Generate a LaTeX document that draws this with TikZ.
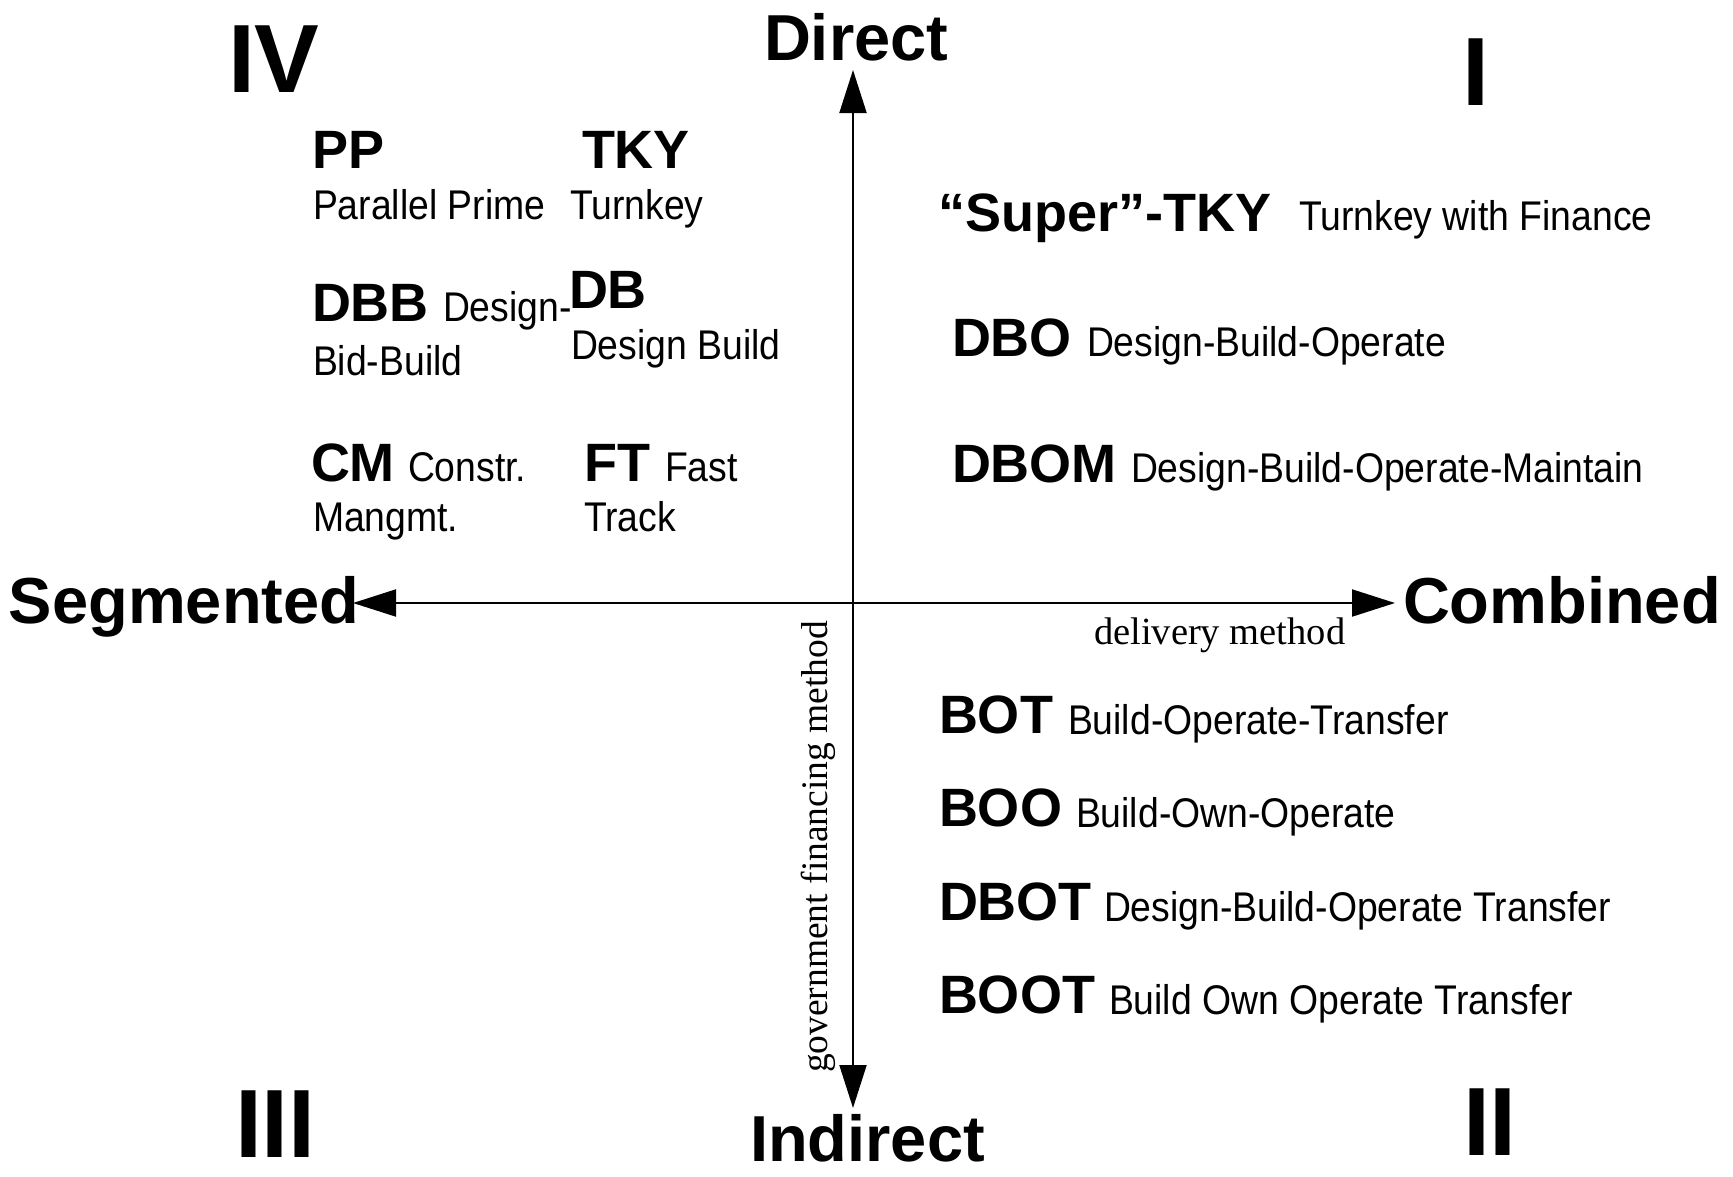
\documentclass[tikz,border=0pt]{standalone}
\usepackage{fontspec}
\setmainfont{Liberation Sans}
\newfontfamily\narfam{Liberation Sans}[FakeStretch=0.9]
\newfontfamily\serfam{Liberation Serif}
\usetikzlibrary{arrows.meta}
\newcommand\mybold{\fontsize{54}{60}\selectfont\bfseries}
\newcommand\myreg{\narfam\fontsize{41.5}{48}\selectfont}
\newcommand\myaxis{\fontsize{65}{72}\selectfont\bfseries}
\newcommand\myroman{\fontsize{97}{100}\selectfont\bfseries}
\begin{document}
\begin{tikzpicture}[x=1pt,y=-1pt,
  lbl/.style={inner sep=0pt,outer sep=0pt,anchor=base west},
  abbr/.style={lbl,font=\mybold},
  desc/.style={lbl,font=\myreg},
  axislbl/.style={lbl,font=\myaxis},
  quad/.style={lbl,font=\myroman},
  axisline/.style={line width=2pt,{Triangle[length=43pt,width=27pt]}-{Triangle[length=43pt,width=27pt]}}]
\useasboundingbox (0,0) rectangle (1733,1176);
% axes
\coordinate (T) at (853,70);
\coordinate (B) at (853,1108);
\coordinate (W) at (353,603);
\coordinate (E) at (1395,603);
\draw[axisline] (W) -- (E);
\draw[axisline] (B) -- (T);
% axis labels
\node[axislbl] (direct) at (764,60) {Direct};
\node[axislbl] (indirect) at (750,1161) {Indirect};
\node[axislbl] (segmented) at (9,623) {Segmented};
\node[axislbl] (combined) at (1403,623) {Combined};
\node[lbl,font=\serfam\fontsize{38.5}{44}\selectfont] (delivery) at (1094,644) {delivery method};
\node[inner sep=0pt,anchor=base,rotate=90,font=\serfam\fontsize{37.5}{44}\selectfont] (gov) at (827,847) {government financing method};
% quadrant numerals
\node[quad] (qIV) at (228,92) {IV};
\node[quad] (qI) at (1462,105) {I};
\node[quad] (qIII) at (235,1157) {III};
\node[quad] (qII) at (1463,1155) {II};
% quadrant IV
\node[abbr] (pp) at (312,168) {PP};
\node[desc] (ppt) at (313,219) {Parallel Prime};
\node[abbr] (tky) at (582,168) {TKY};
\node[desc] (tkyt) at (570,219) {Turnkey};
\node[abbr] (dbb) at (312,321) {DBB};
\node[desc] (dbbt) at (443,321) {Design-};
\node[desc] (dbbt2) at (313,375) {Bid-Build};
\node[abbr] (db) at (569,308) {DB};
\node[desc] (dbt) at (571,359) {Design Build};
\node[abbr] (cm) at (311,481) {CM};
\node[desc] (cmt) at (408,481) {Constr.};
\node[desc] (cmt2) at (313,531) {Mangmt.};
\node[abbr] (ft) at (584,481) {FT};
\node[desc] (ftt) at (665,481) {Fast};
\node[desc] (ftt2) at (584,531) {Track};
% quadrant I
\node[abbr] (stky) at (938,231) {“Super”-TKY};
\node[desc] (stkyt) at (1299,230) {Turnkey with Finance};
\node[abbr] (dbo) at (952,356) {DBO};
\node[desc] (dbot) at (1087,356) {Design-Build-Operate};
\node[abbr] (dbom) at (952,482) {DBOM};
\node[desc] (dbomt) at (1131,482) {Design-Build-Operate-Maintain};
% quadrant II
\node[abbr] (bot) at (939,733) {BOT};
\node[desc] (bott) at (1068,734) {Build-Operate-Transfer};
\node[abbr] (boo) at (939,826) {BOO};
\node[desc] (boot2) at (1076,827) {Build-Own-Operate};
\node[abbr] (dbotr) at (939,920) {DBOT};
\node[desc] (dbotrt) at (1104,921) {Design-Build-Operate Transfer};
\node[abbr] (boot) at (939,1013) {BOOT};
\node[desc] (boott) at (1109,1014) {Build Own Operate Transfer};
\end{tikzpicture}
\end{document}
